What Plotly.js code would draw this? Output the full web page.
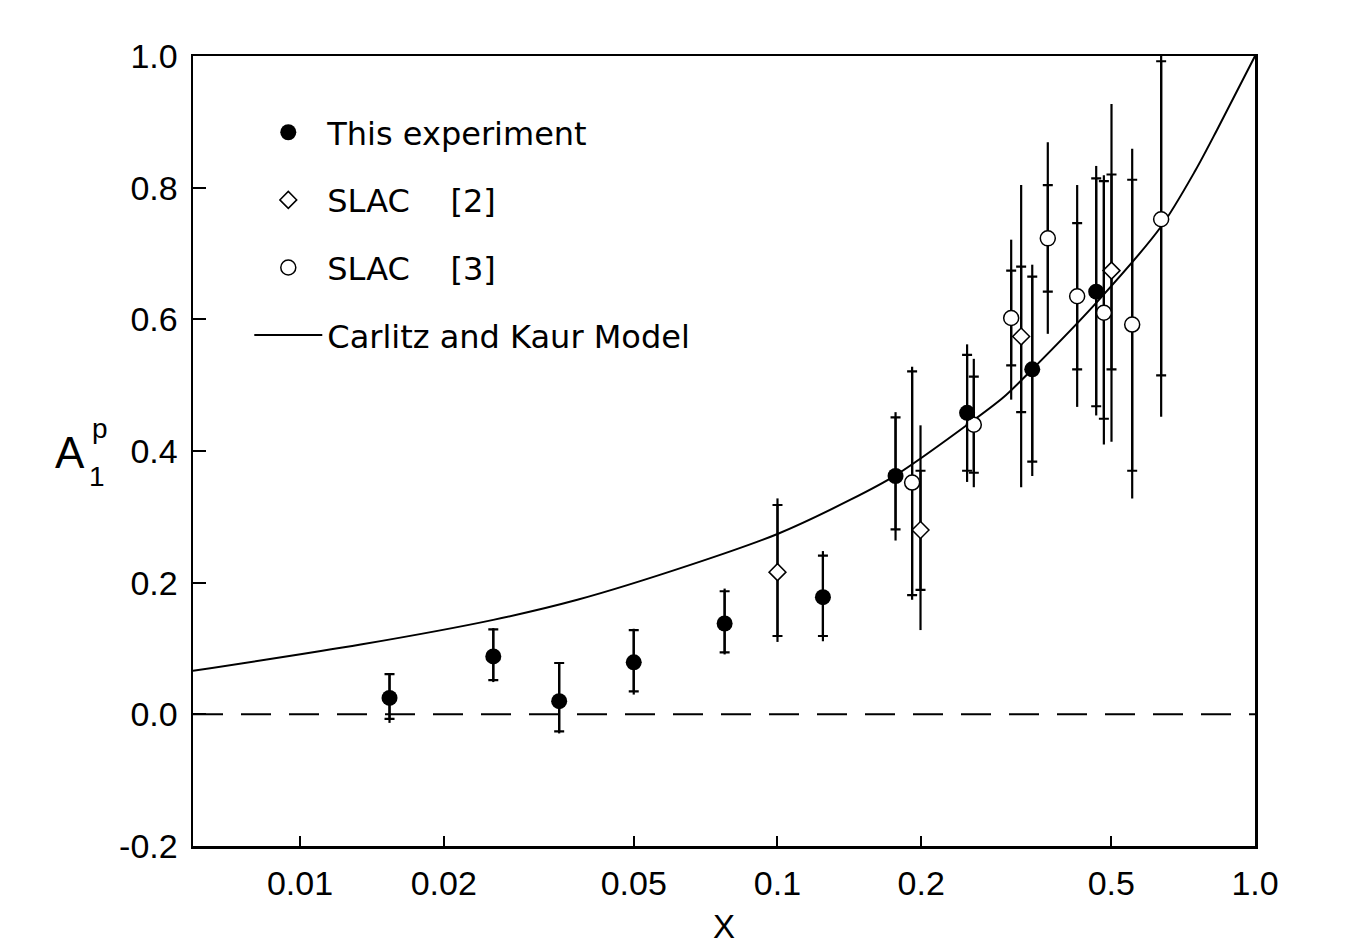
<!DOCTYPE html>
<html>
<head>
<meta charset="utf-8">
<script src="https://cdn.plot.ly/plotly-3.0.1.min.js"></script>
<style>
  html, body { margin: 0; padding: 0; background: #fff; }
  #chart { width: 1357px; height: 951px; }
</style>
</head>
<body>
<div id="chart"></div>
<script>
// values (x is Bjorken x, y is A1p)
var expX = [0.0154, 0.0254, 0.0349, 0.0500, 0.0775, 0.1245, 0.1767, 0.2495, 0.3416, 0.465]
var expY = [0.025, 0.088, 0.020, 0.079, 0.138, 0.178, 0.362, 0.458, 0.524, 0.642]
var expStatUp = [0.061, 0.129, 0.078, 0.128, 0.187, 0.241, 0.451, 0.546, 0.665, 0.814]
var expStatDn = [-0.007, 0.052, -0.026, 0.035, 0.094, 0.119, 0.281, 0.370, 0.384, 0.468]
var expTotUp = [0.062, 0.131, 0.079, 0.130, 0.191, 0.248, 0.459, 0.562, 0.683, 0.833]
var expTotDn = [-0.013, 0.049, -0.029, 0.030, 0.091, 0.111, 0.264, 0.353, 0.362, 0.454]

var slac2X = [0.100, 0.1993, 0.3238, 0.5006]
var slac2Y = [0.216, 0.280, 0.574, 0.674]
var slac2StatUp = [0.318, 0.370, 0.680, 0.820]
var slac2StatDn = [0.119, 0.189, 0.459, 0.524]
var slac2TotUp = [0.328, 0.439, 0.804, 0.927]
var slac2TotDn = [0.110, 0.128, 0.345, 0.414]

var slac3X = [0.1914, 0.2577, 0.3086, 0.3682, 0.4242, 0.4825, 0.5531, 0.636]
var slac3Y = [0.352, 0.440, 0.602, 0.723, 0.635, 0.610, 0.592, 0.752]
var slac3StatUp = [0.521, 0.513, 0.674, 0.804, 0.746, 0.810, 0.812, 0.992]
var slac3StatDn = [0.181, 0.367, 0.530, 0.642, 0.524, 0.449, 0.370, 0.515]
var slac3TotUp = [0.528, 0.540, 0.721, 0.869, 0.804, 0.819, 0.859, 1.057]
var slac3TotDn = [0.174, 0.345, 0.478, 0.578, 0.467, 0.410, 0.328, 0.452]

var modelX = [0.00597, 0.0134, 0.0254, 0.0381, 0.0657, 0.1, 0.1422, 0.1767, 0.2577, 0.2978, 0.3416, 0.465, 0.636, 0.75, 0.833, 1.0]
var modelY = [0.066, 0.106, 0.1435, 0.174, 0.227, 0.274, 0.326, 0.363, 0.447, 0.482, 0.524, 0.625, 0.741, 0.826, 0.888, 1.0]

var xTicks = [0.01, 0.02, 0.05, 0.1, 0.2, 0.5, 1.0]
var xTickText = ['0.01', '0.02', '0.05', '0.1', '0.2', '0.5', '1.0']
var yTicks = [-0.2, 0.0, 0.2, 0.4, 0.6, 0.8, 1.0]
var yTickText = ['-0.2', '0.0', '0.2', '0.4', '0.6', '0.8', '1.0']

var legendNames = ['This experiment', 'SLAC\u00a0\u00a0\u00a0\u00a0[2]', 'SLAC\u00a0\u00a0\u00a0\u00a0[3]', 'Carlitz and Kaur Model']

// turn absolute bar ends into plus/minus offsets for plotly
function offsets(ys, ends, up) {
  var out = []
  for (var i = 0; i < ys.length; i++) {
    out[i] = up ? ends[i] - ys[i] : ys[i] - ends[i]
  }
  return out
}

// long bar without caps (total error)
function outerBars(xs, ys, up, dn) {
  return {
    x: xs, y: ys, type: 'scatter', mode: 'markers',
    marker: {size: 1, color: 'rgba(0,0,0,0)'},
    error_y: {type: 'data', symmetric: false,
      array: offsets(ys, up, true), arrayminus: offsets(ys, dn, false),
      width: 0, thickness: 2.2, color: '#000'},
    showlegend: false, hoverinfo: 'skip', cliponaxis: false
  }
}

// marker with capped bar (statistical error)
function innerBars(xs, ys, up, dn, name, rank, marker) {
  return {
    x: xs, y: ys, type: 'scatter', mode: 'markers', name: name,
    legendgroup: 'g' + rank, legendrank: rank, marker: marker,
    error_y: {type: 'data', symmetric: false,
      array: offsets(ys, up, true), arrayminus: offsets(ys, dn, false),
      width: 5, thickness: 2.2, color: '#000'},
    cliponaxis: false
  }
}

var traces = [
  outerBars(expX, expY, expTotUp, expTotDn),
  outerBars(slac2X, slac2Y, slac2TotUp, slac2TotDn),
  outerBars(slac3X, slac3Y, slac3TotUp, slac3TotDn),
  {
    x: modelX, y: modelY, type: 'scatter', mode: 'lines', name: legendNames[3],
    legendgroup: 'g4', legendrank: 4, line: {color: '#000', width: 2, shape: 'spline', smoothing: 0.8}
  },
  innerBars(slac2X, slac2Y, slac2StatUp, slac2StatDn, legendNames[1], 2,
    {symbol: 'diamond', size: 13, color: '#fff', line: {color: '#000', width: 1.5}}),
  innerBars(slac3X, slac3Y, slac3StatUp, slac3StatDn, legendNames[2], 3,
    {symbol: 'circle', size: 15, color: '#fff', line: {color: '#000', width: 1.5}}),
  innerBars(expX, expY, expStatUp, expStatDn, legendNames[0], 1,
    {symbol: 'circle', size: 16, color: '#000', line: {color: '#000', width: 0}})
]

var tickFont = {family: 'Liberation Sans, Arial, sans-serif', size: 34, color: '#000'}
var labelFont = 'Liberation Sans, Arial, sans-serif'

var layout = {
  width: 1357,
  height: 951,
  margin: {l: 193, r: 102, t: 56, b: 105},
  paper_bgcolor: '#fff',
  plot_bgcolor: '#fff',
  font: {family: 'DejaVu Sans, sans-serif', color: '#000'},
  showlegend: true,
  legend: {
    x: 0.053, y: 0.938, xanchor: 'left', yanchor: 'top',
    bgcolor: 'rgba(0,0,0,0)', borderwidth: 0,
    traceorder: 'grouped', tracegroupgap: 23, itemwidth: 68,
    font: {family: 'DejaVu Sans, sans-serif', size: 32, color: '#000'}
  },
  xaxis: {
    type: 'log',
    range: [Math.log10(0.00597), 0],
    tickvals: xTicks, ticktext: xTickText,
    ticks: 'inside', ticklen: 10, tickwidth: 2, tickcolor: '#000',
    tickfont: tickFont, ticklabelstandoff: 6,
    showline: true, linewidth: 2.5, linecolor: '#000', mirror: true,
    showgrid: false, zeroline: false,
    title: {text: 'X', font: {family: labelFont, size: 33}, standoff: 14}
  },
  yaxis: {
    range: [-0.2, 1.0],
    tickvals: yTicks, ticktext: yTickText,
    ticks: 'inside', ticklen: 13, tickwidth: 2, tickcolor: '#000',
    tickfont: tickFont, ticklabelstandoff: 6,
    showline: true, linewidth: 2.5, linecolor: '#000', mirror: true,
    showgrid: false, zeroline: false
  },
  shapes: [{
    type: 'line', xref: 'paper', x0: 0, x1: 1, yref: 'y', y0: 0, y1: 0,
    line: {color: '#000', width: 2, dash: '30px,18px'}, layer: 'below'
  }],
  annotations: [
    {text: 'A', xref: 'paper', yref: 'paper', x: -0.1158, y: 0.4975,
      xanchor: 'center', yanchor: 'middle', showarrow: false,
      font: {family: labelFont, size: 44}},
    {text: 'p', xref: 'paper', yref: 'paper', x: -0.0876, y: 0.528,
      xanchor: 'center', yanchor: 'middle', showarrow: false,
      font: {family: labelFont, size: 28}},
    {text: '1', xref: 'paper', yref: 'paper', x: -0.0904, y: 0.468,
      xanchor: 'center', yanchor: 'middle', showarrow: false,
      font: {family: labelFont, size: 28}}
  ]
}

Plotly.newPlot('chart', traces, layout, {displayModeBar: false, staticPlot: true})
</script>
</body>
</html>
